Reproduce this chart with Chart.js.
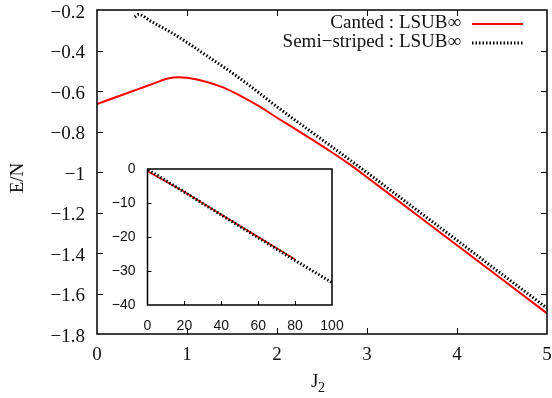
<!DOCTYPE html>
<html>
<head>
<meta charset="utf-8">
<script src="https://cdn.jsdelivr.net/npm/chart.js@4.4.1/dist/chart.umd.min.js"></script>
<style>
  html, body { margin: 0; padding: 0; background: #fff; }
  #wrap { position: relative; width: 552px; height: 398px; }
  #mainChart { position: absolute; left: 0; top: 0; }
  #insetChart { position: absolute; left: 100px; top: 160px; }
</style>
</head>
<body>
<div id="wrap">
  <canvas id="mainChart" width="552" height="398"></canvas>
  <canvas id="insetChart" width="245" height="180"></canvas>
</div>
<script>
// main panel data
const cantedJ2 = [0, 0.2, 0.4, 0.6, 0.7, 0.8, 0.9, 1.0, 1.2, 1.4, 1.6, 1.8, 2.0, 2.2, 2.4, 2.6, 2.8, 3.0, 3.5, 4.0, 4.5, 5.0];
const cantedE  = [-0.664, -0.632, -0.600, -0.568, -0.551, -0.537, -0.532, -0.535, -0.553, -0.582, -0.625, -0.675, -0.732, -0.787, -0.843, -0.900, -0.960, -1.026, -1.194, -1.362, -1.530, -1.698];
const stripedJ2 = [0.42, 0.46, 0.6, 0.8, 1.0, 1.25, 1.5, 1.75, 2.0, 2.5, 3.0, 3.5, 4.0, 4.5, 5.0];
const stripedE  = [-0.235, -0.222, -0.256, -0.305, -0.360, -0.435, -0.510, -0.592, -0.678, -0.840, -1.003, -1.170, -1.337, -1.505, -1.672];

// inset data
const insetCantedJ2 = [0, 20, 40, 60, 80];
const insetCantedE  = [-0.66, -6.7, -13.4, -20.0, -26.6];
const insetStripedJ2 = [0.42, 20, 40, 60, 80, 100];
const insetStripedE  = [-0.24, -6.8, -13.5, -20.2, -26.9, -33.4];

// tick labels
const mainXTicks = [0, 1, 2, 3, 4, 5];
const mainYTicks = [-1.8, -1.6, -1.4, -1.2, -1, -0.8, -0.6, -0.4, -0.2];
const insetXTicks = [0, 20, 40, 60, 80, 100];
const insetYTicks = [-40, -30, -20, -10, 0];

const labels = ['Canted : LSUB\u221e', 'Semi\u2212striped : LSUB\u221e'];

const RED = '#ff0000';
const BLACK = '#000000';
const SERIF = '"Liberation Serif", "Times New Roman", serif';
const SANS = '"Liberation Sans", Arial, sans-serif';

function pts(xs, ys) {
  return xs.map((v, i) => ({ x: v, y: ys[i] }));
}
function fmt(v) {
  return String(Math.round(v * 10) / 10).replace('-', '\u2212');
}
// keep label overhang from shrinking the plot area
function noPadding(s) {
  s.paddingTop = 0; s.paddingBottom = 0; s.paddingLeft = 0; s.paddingRight = 0;
}

// frame + inward ticks, gnuplot style
const frameTicks = {
  id: 'frameTicks',
  beforeDatasetsDraw(chart, args, opts) {
    if (!opts.fill) return;
    const a = chart.chartArea, ctx = chart.ctx;
    ctx.save();
    ctx.fillStyle = '#fff';
    ctx.fillRect(a.left, a.top, a.right - a.left, a.bottom - a.top);
    ctx.restore();
  },
  afterDatasetsDraw(chart, args, opts) {
    const { ctx, chartArea: a, scales: { x, y } } = chart;
    const L = opts.tickLen;
    ctx.save();
    ctx.strokeStyle = '#000';
    ctx.lineWidth = opts.lineWidth;
    ctx.strokeRect(a.left, a.top, a.right - a.left, a.bottom - a.top);
    ctx.lineWidth = 1;
    ctx.beginPath();
    x.ticks.forEach(t => {
      if (t.value <= x.min || t.value >= x.max) return;
      const px = Math.round(x.getPixelForValue(t.value)) + 0.5;
      ctx.moveTo(px, a.bottom); ctx.lineTo(px, a.bottom - L);
      if (opts.mirror) { ctx.moveTo(px, a.top); ctx.lineTo(px, a.top + L); }
    });
    y.ticks.forEach(t => {
      if (t.value <= y.min || t.value >= y.max) return;
      const py = Math.round(y.getPixelForValue(t.value)) + 0.5;
      ctx.moveTo(a.left, py); ctx.lineTo(a.left + L, py);
      if (opts.mirror) { ctx.moveTo(a.right, py); ctx.lineTo(a.right - L, py); }
    });
    ctx.stroke();
    ctx.restore();
  }
};

// legend and axis titles for the main panel
const mainDecor = {
  id: 'mainDecor',
  afterDraw(chart) {
    const ctx = chart.ctx;
    ctx.save();
    ctx.fillStyle = '#111';
    ctx.font = '19px ' + SERIF;
    ctx.textAlign = 'right';
    ctx.textBaseline = 'middle';
    ctx.fillText(labels[0], 461, 23);
    ctx.fillText(labels[1], 461, 42);
    ctx.strokeStyle = RED;
    ctx.lineWidth = 2;
    ctx.beginPath(); ctx.moveTo(472, 24); ctx.lineTo(523, 24); ctx.stroke();
    ctx.strokeStyle = BLACK;
    ctx.lineWidth = 3;
    ctx.setLineDash([1.5, 2]);
    ctx.beginPath(); ctx.moveTo(472, 43); ctx.lineTo(523, 43); ctx.stroke();
    ctx.setLineDash([]);

    // x title J2
    ctx.textAlign = 'left';
    ctx.textBaseline = 'alphabetic';
    ctx.font = '19px ' + SERIF;
    ctx.fillText('J', 311, 387);
    ctx.font = '14px ' + SERIF;
    ctx.fillText('2', 318, 392);

    // y title
    ctx.translate(18, 178);
    ctx.rotate(-Math.PI / 2);
    ctx.textAlign = 'center';
    ctx.textBaseline = 'middle';
    ctx.font = '19px ' + SERIF;
    ctx.fillText('E/N', 0, 0);
    ctx.restore();
  }
};

new Chart(document.getElementById('mainChart'), {
  type: 'line',
  data: {
    datasets: [
      {
        label: labels[0],
        data: pts(cantedJ2, cantedE),
        borderColor: RED,
        borderWidth: 2,
        pointRadius: 0,
        cubicInterpolationMode: 'monotone'
      },
      {
        label: labels[1],
        data: pts(stripedJ2, stripedE),
        borderColor: BLACK,
        borderWidth: 3,
        borderDash: [1.5, 2],
        pointRadius: 0,
        cubicInterpolationMode: 'monotone'
      }
    ]
  },
  options: {
    responsive: false,
    animation: false,
    layout: { padding: { left: 0, top: 10, right: 5, bottom: 0 } },
    plugins: {
      legend: { display: false },
      tooltip: { enabled: false },
      frameTicks: { tickLen: 6, lineWidth: 1.5, mirror: true, fill: false }
    },
    scales: {
      x: {
        type: 'linear',
        min: 0, max: 5,
        grid: { display: false, drawTicks: false },
        border: { display: false },
        afterBuildTicks: s => { s.ticks = mainXTicks.map(v => ({ value: v })); },
        afterFit: s => { s.height = 64; noPadding(s); },
        ticks: { padding: 10, color: '#111', font: { family: SERIF, size: 19 }, callback: v => fmt(v), maxRotation: 0 }
      },
      y: {
        type: 'linear',
        min: -1.8, max: -0.2,
        grid: { display: false, drawTicks: false },
        border: { display: false },
        afterBuildTicks: s => { s.ticks = mainYTicks.map(v => ({ value: v })); },
        afterFit: s => { s.width = 97; noPadding(s); },
        ticks: { padding: 12, labelOffset: 3, color: '#111', font: { family: SERIF, size: 19 }, callback: v => fmt(v) }
      }
    }
  },
  plugins: [frameTicks, mainDecor]
});

new Chart(document.getElementById('insetChart'), {
  type: 'line',
  data: {
    datasets: [
      {
        data: pts(insetStripedJ2, insetStripedE),
        borderColor: BLACK,
        borderWidth: 3,
        borderDash: [1.5, 2],
        pointRadius: 0
      },
      {
        data: pts(insetCantedJ2, insetCantedE),
        borderColor: RED,
        borderWidth: 1.5,
        pointRadius: 0
      }
    ]
  },
  options: {
    responsive: false,
    animation: false,
    layout: { padding: { left: 0, top: 9, right: 13, bottom: 0 } },
    plugins: {
      legend: { display: false },
      tooltip: { enabled: false },
      frameTicks: { tickLen: 4, lineWidth: 1.5, mirror: false, fill: true }
    },
    scales: {
      x: {
        type: 'linear',
        min: 0, max: 100,
        grid: { display: false, drawTicks: false },
        border: { display: false },
        afterBuildTicks: s => { s.ticks = insetXTicks.map(v => ({ value: v })); },
        afterFit: s => { s.height = 35; noPadding(s); },
        ticks: { padding: 13, color: '#111', font: { family: SANS, size: 14 }, callback: v => fmt(v), maxRotation: 0 }
      },
      y: {
        type: 'linear',
        min: -40, max: 0,
        grid: { display: false, drawTicks: false },
        border: { display: false },
        afterBuildTicks: s => { s.ticks = insetYTicks.map(v => ({ value: v })); },
        afterFit: s => { s.width = 47.5; noPadding(s); },
        ticks: { padding: 12, color: '#111', font: { family: SANS, size: 14 }, callback: v => fmt(v) }
      }
    }
  },
  plugins: [frameTicks]
});
</script>
</body>
</html>
